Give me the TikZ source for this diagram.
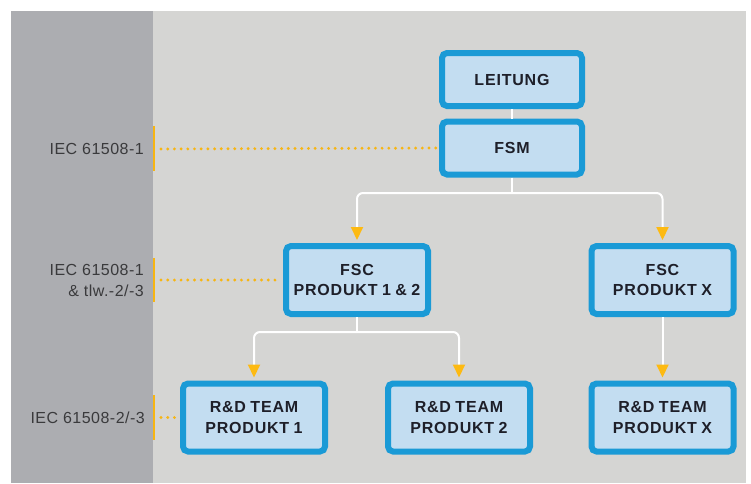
\documentclass[tikz,border=0pt]{standalone}
\usepackage{fontspec}
\setmainfont{Liberation Sans}
\newfontfamily\boxfont[LetterSpace=5,WordSpace=0.85]{Liberation Sans}
\newfontfamily\labelfont[LetterSpace=3]{Liberation Sans}
\usetikzlibrary{arrows.meta}

\definecolor{panelgray}{HTML}{ACADB1}
\definecolor{areagray}{HTML}{D5D5D3}
\definecolor{boxfill}{HTML}{C3DDF1}
\definecolor{boxline}{HTML}{1A9AD6}
\definecolor{tipcol}{HTML}{FDBA12}
\definecolor{dotcol}{HTML}{F7B512}
\definecolor{labeltext}{HTML}{3A3A3C}
\definecolor{boxtext}{HTML}{1E1F29}

\tikzset{
  orgbox/.style={draw=boxline, fill=boxfill, line width=6pt, rounded corners=5pt,
    minimum width=142pt, minimum height=68pt, align=center, inner sep=0pt,
    font=\boxfont\bfseries\fontsize{16}{20.5}\selectfont, text=boxtext},
  topbox/.style={orgbox, minimum width=140pt, minimum height=53pt},
  link/.style={draw=white, line width=2pt, rounded corners=6pt,
    -{Triangle[width=12pt,length=13pt,color=tipcol,fill=tipcol]}, shorten >=3pt},
  plainlink/.style={draw=white, line width=2pt},
  leader/.style={draw=dotcol, line width=3.2pt, line cap=round, dash pattern=on 0pt off 6.7pt},
  tick/.style={draw=dotcol, line width=1.8pt},
  iec/.style={anchor=east, align=right, inner sep=0pt, text=labeltext,
    font=\labelfont\fontsize{16}{21}\selectfont}
}

\begin{document}
\begin{tikzpicture}[x=1pt, y=-1pt]
  % canvas and background areas
  \fill[white] (0,0) rectangle (751,483);
  \useasboundingbox (0,0) rectangle (751,483);
  \fill[areagray] (11,11) rectangle (746,483);
  \fill[panelgray] (11,11) rectangle (153,483);

  % organisation boxes
  \node[topbox] (leit) at (512,79.5) {LEITUNG};
  \node[topbox] (fsm)  at (512,148) {FSM};
  \node[orgbox] (fsc12) at (357,280) {FSC\\PRODUKT 1 \& 2};
  \node[orgbox] (fscx)  at (662.5,280) {FSC\\PRODUKT X};
  \node[orgbox] (rd1) at (254,417.5) {R\&D TEAM\\PRODUKT 1};
  \node[orgbox] (rd2) at (459,417.5) {R\&D TEAM\\PRODUKT 2};
  \node[orgbox] (rdx) at (662.5,417.5) {R\&D TEAM\\PRODUKT X};

  % hierarchy connectors
  \draw[plainlink] (leit.south) -- (fsm.north);
  \coordinate (fsmsplit) at (512,193);
  \coordinate (fscsplit) at (357,332);
  \draw[plainlink] (fsm.south) -- (fsmsplit);
  \draw[link] (fsmsplit) -| (fsc12.north);
  \draw[link] (fsmsplit) -| (fscx.north);
  \draw[plainlink] (fsc12.south) -- (fscsplit);
  \draw[link] (fscsplit) -| (rd1.north);
  \draw[link] (fscsplit) -| (rd2.north);
  \draw[link] (fscx.south) -- (rdx.north);

  % standard labels with leaders
  \node[iec] (l1) at (144,149) {IEC 61508-1};
  \node[iec] (l2) at (144,280) {IEC 61508-1\\\& tlw.-2/-3};
  \node[iec] (l3) at (145,418) {IEC 61508-2/-3};

  \coordinate (t1a) at (154,126); \coordinate (t1b) at (154,171);
  \coordinate (t2a) at (154,258); \coordinate (t2b) at (154,302);
  \coordinate (t3a) at (154,395); \coordinate (t3b) at (154,440);
  \draw[tick] (t1a) -- (t1b);
  \draw[tick] (t2a) -- (t2b);
  \draw[tick] (t3a) -- (t3b);

  \coordinate (d1) at (161,149);
  \coordinate (d2) at (161,280);
  \coordinate (d3) at (161,417.5);
  \draw[leader] (d1) -- ([xshift=-2pt]fsm.west);
  \draw[leader] (d2) -- ([xshift=-2pt]fsc12.west);
  \draw[leader] (d3) -- ([xshift=-2pt]rd1.west);
\end{tikzpicture}
\end{document}
